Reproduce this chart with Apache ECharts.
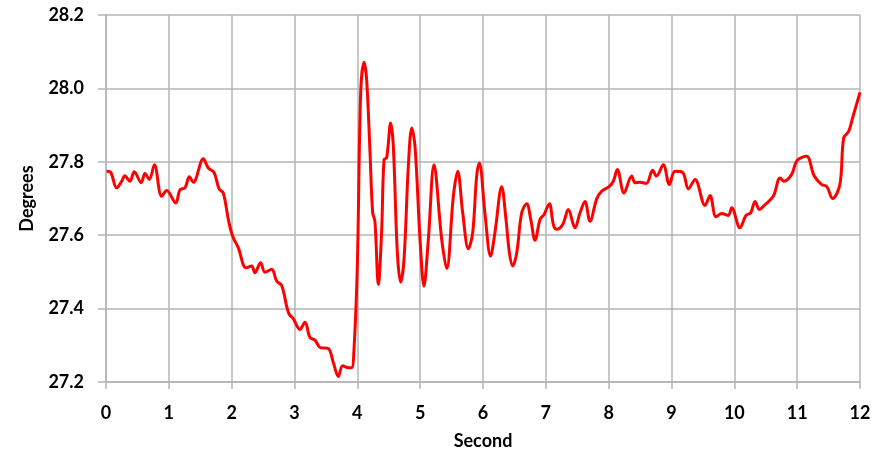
<!DOCTYPE html>
<html>
<head>
<meta charset="utf-8">
<script src="https://cdn.jsdelivr.net/npm/echarts@6/dist/echarts.min.js"></script>
<style>html,body{margin:0;padding:0;background:#fff}#c{width:881px;height:455px}</style>
</head>
<body>
<div id="c"></div>
<script>
var xTicks = [0,1,2,3,4,5,6,7,8,9,10,11,12];
var seconds = [0.01,0.075,0.17,0.25,0.30,0.38,0.45,0.56,0.62,0.69,0.77,0.886,0.966,1.109,1.178,1.257,1.327,1.39,1.549,1.629,1.72,1.80,1.867,1.947,2.016,2.105,2.228,2.318,2.37,2.46,2.53,2.637,2.716,2.796,2.875,2.917,2.98,3.087,3.167,3.246,3.326,3.406,3.538,3.618,3.697,3.767,3.857,3.91,3.947,4.0,4.053,4.106,4.148,4.2,4.244,4.28,4.334,4.386,4.425,4.467,4.531,4.573,4.637,4.69,4.743,4.812,4.866,4.918,4.998,5.06,5.13,5.22,5.343,5.423,5.528,5.597,5.677,5.767,5.836,5.899,5.942,6.03,6.12,6.19,6.297,6.366,6.42,6.473,6.537,6.616,6.696,6.76,6.828,6.908,6.97,7.056,7.12,7.173,7.268,7.358,7.464,7.544,7.623,7.703,7.81,7.89,8.01,8.074,8.138,8.244,8.367,8.42,8.5,8.6,8.70,8.76,8.87,8.966,9.056,9.178,9.268,9.374,9.534,9.613,9.709,9.8,9.905,9.958,10.09,10.186,10.26,10.33,10.4,10.474,10.62,10.728,10.79,10.91,11.0,11.15,11.27,11.39,11.47,11.566,11.68,11.74,11.82,11.89,12.0];
var degrees = [27.774,27.771,27.729,27.747,27.762,27.747,27.773,27.743,27.768,27.752,27.792,27.706,27.722,27.688,27.724,27.729,27.759,27.744,27.808,27.783,27.771,27.726,27.715,27.643,27.597,27.566,27.511,27.516,27.498,27.525,27.499,27.507,27.475,27.463,27.407,27.384,27.373,27.343,27.363,27.321,27.314,27.294,27.291,27.253,27.215,27.244,27.239,27.239,27.289,27.516,27.987,28.071,28.024,27.833,27.661,27.638,27.466,27.607,27.806,27.811,27.906,27.842,27.552,27.472,27.534,27.788,27.892,27.842,27.588,27.461,27.588,27.792,27.588,27.509,27.706,27.774,27.661,27.563,27.607,27.761,27.797,27.661,27.543,27.607,27.732,27.643,27.552,27.516,27.552,27.661,27.686,27.643,27.586,27.643,27.656,27.686,27.629,27.616,27.629,27.670,27.620,27.661,27.692,27.638,27.699,27.720,27.733,27.747,27.779,27.715,27.761,27.743,27.744,27.741,27.777,27.761,27.792,27.738,27.774,27.771,27.726,27.752,27.681,27.708,27.650,27.659,27.654,27.675,27.620,27.654,27.661,27.692,27.670,27.681,27.706,27.756,27.747,27.765,27.804,27.815,27.762,27.738,27.733,27.700,27.738,27.865,27.883,27.924,27.989];

var pts = seconds.map(function(s,i){return [s, degrees[i]];});
var chart = echarts.init(document.getElementById('c'), null, {renderer:'canvas'});
var lblFont = {fontFamily:'Lato', fontWeight:'bold', fontSize:18, color:'#000'};
chart.setOption({
  animation:false,
  backgroundColor:'#fff',
  grid:{left:106, right:21, top:15, bottom:72, containLabel:false},
  xAxis:{
    type:'value', min:0, max:12, interval:1,
    name:'Second', nameLocation:'middle', nameGap:50,
    nameTextStyle:{fontFamily:'Lato', fontWeight:'bold', fontSize:18, color:'#000'},
    axisLine:{show:true, lineStyle:{color:'#b5b5b5', width:1.5}},
    axisTick:{show:true, length:7, lineStyle:{color:'#b5b5b5', width:1.5}},
    axisLabel:Object.assign({margin:22, formatter:function(v){return String(v);}}, lblFont),
    splitLine:{show:true, lineStyle:{color:'#b5b5b5', width:1.5}}
  },
  yAxis:{
    type:'value', min:27.2, max:28.2, interval:0.2,
    name:'Degrees', nameLocation:'middle', nameGap:70, nameRotate:90,
    nameTextStyle:{fontFamily:'Lato', fontWeight:'bold', fontSize:18, color:'#000'},
    axisLine:{show:true, lineStyle:{color:'#b5b5b5', width:1.5}},
    axisTick:{show:true, length:8, lineStyle:{color:'#b5b5b5', width:1.5}},
    axisLabel:Object.assign({margin:22, formatter:function(v){return v.toFixed(1);}}, lblFont),
    splitLine:{show:true, lineStyle:{color:'#b5b5b5', width:1.5}}
  },
  series:[{
    type:'line', data:pts, showSymbol:false, smooth:0.35,
    lineStyle:{color:'#ff0000', width:3}
  }]
});
</script>
</body>
</html>
